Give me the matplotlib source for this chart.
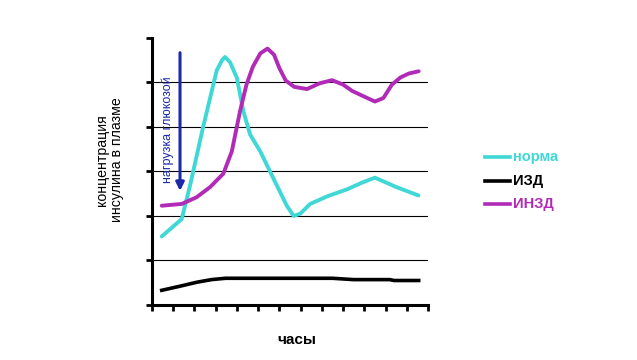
import matplotlib.pyplot as plt

# hours (arbitrary units) and insulin concentration
norm_x = [0.46, 1.4, 1.8, 2.4, 3.05, 3.3, 3.44, 3.68, 4.0, 4.3, 4.62, 5.1, 5.72, 6.35, 6.67, 6.98, 7.45, 8.3, 9.2, 9.9, 10.5, 11.5, 12.55]
norm_y = [1.54, 1.93, 2.7, 3.98, 5.27, 5.5, 5.57, 5.45, 5.1, 4.36, 3.83, 3.45, 2.84, 2.23, 2.0, 2.05, 2.27, 2.45, 2.6, 2.75, 2.86, 2.65, 2.46]

izd_x = [0.46, 1.3, 2.1, 2.8, 3.46, 5.0, 7.0, 8.5, 9.5, 11.2, 11.4, 12.56]
izd_y = [0.33, 0.42, 0.51, 0.57, 0.60, 0.60, 0.60, 0.60, 0.57, 0.57, 0.55, 0.55]

inzd_x = [0.46, 1.4, 2.1, 2.74, 3.36, 3.76, 4.15, 4.45, 4.75, 5.1, 5.44, 5.75, 6.0, 6.3, 6.7, 7.3, 7.9, 8.48, 9.0, 9.42, 10.0, 10.5, 10.9, 11.3, 11.7, 12.1, 12.56]
inzd_y = [2.23, 2.27, 2.42, 2.65, 2.95, 3.45, 4.36, 4.95, 5.35, 5.65, 5.76, 5.62, 5.32, 5.04, 4.9, 4.85, 4.98, 5.05, 4.95, 4.81, 4.68, 4.57, 4.65, 4.95, 5.11, 5.2, 5.25]

c_norm = '#3fd8d6'
c_izd = '#000000'
c_inzd = '#b22ab8'

plt.rcParams['font.family'] = ['Liberation Sans', 'DejaVu Sans']

fig = plt.figure(figsize=(6.37, 3.60), dpi=100)
ax = fig.add_axes([0.2386, 0.1528, 0.4333, 0.742])

ax.plot(norm_x, norm_y, color=c_norm, lw=2.8, solid_joinstyle='round', solid_capstyle='round')
ax.plot(izd_x, izd_y, color=c_izd, lw=2.6, solid_joinstyle='round')
ax.plot(inzd_x, inzd_y, color=c_inzd, lw=2.8, solid_joinstyle='round', solid_capstyle='round')

ax.set_xlim(0, 13)
ax.set_ylim(0, 6)
ax.set_xticks(range(0, 14))
ax.set_yticks(range(0, 7))
ax.set_xticklabels([])
ax.set_yticklabels([])
ax.tick_params(axis='both', direction='out', length=4, width=2, color='black')
for y in range(1, 6):
    ax.axhline(y, color='black', lw=0.8, zorder=0)

for s in ['top', 'right']:
    ax.spines[s].set_visible(False)
for s in ['left', 'bottom']:
    ax.spines[s].set_linewidth(2.2)

# glucose load arrow
ax.annotate('', xy=(1.32, 2.5), xytext=(1.32, 5.73),
            arrowprops=dict(arrowstyle='-|>', color='#1c2aa8', lw=2.2, mutation_scale=12))
ax.text(0.72, 3.93, 'нагрузка глюкозой', rotation=90, ha='center', va='center',
        color='#1c2aa8', fontsize=9)

fig.text(0.172, 0.556, 'концентрация\nинсулина в плазме', rotation=90, ha='center', va='center',
         fontsize=10.2, linespacing=1.1)
fig.text(0.466, 0.055, 'часы', ha='center', va='center', fontsize=11, fontweight='bold')

# legend drawn by hand at the right
leg = [('норма', c_norm, 157), ('ИЗД', c_izd, 181), ('ИНЗД', c_inzd, 204)]
for label, col, py in leg:
    yy = 1 - py / 360
    fig.add_artist(plt.Line2D([485 / 637, 510 / 637], [yy, yy], color=col, lw=2.6))
    fig.text(513 / 637, yy, label, color=col, fontsize=10.5, fontweight='bold', va='center')

fig.savefig('out.png', dpi=100)
